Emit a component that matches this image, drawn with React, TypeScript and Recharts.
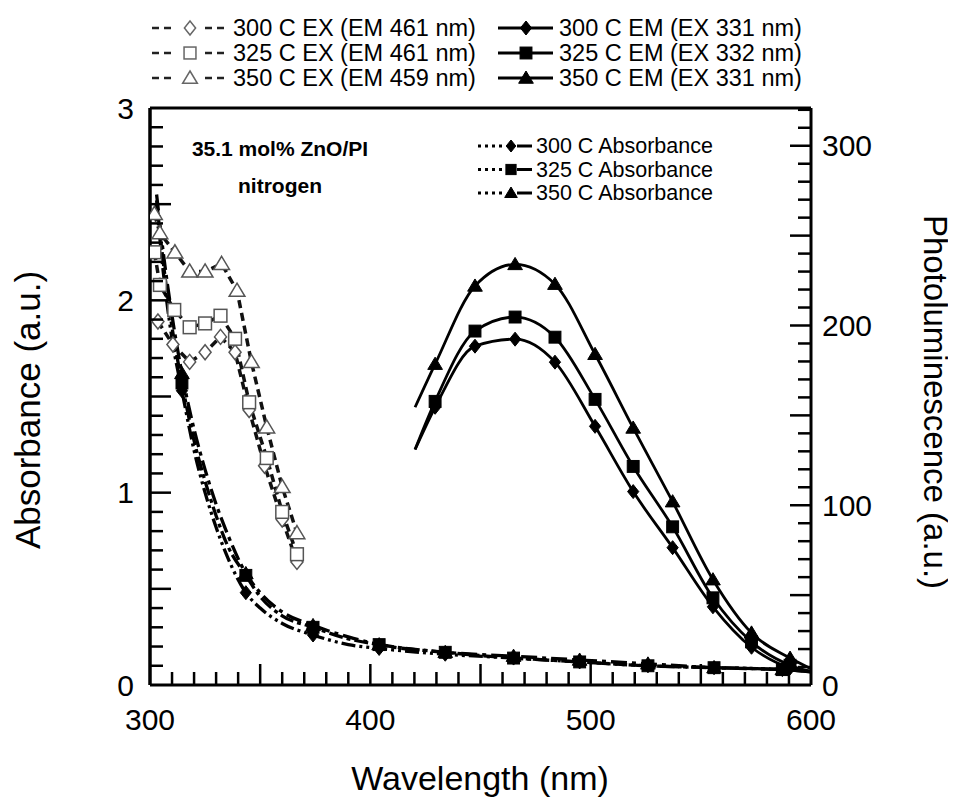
import React from 'react';
import { ComposedChart, Line, XAxis, YAxis, ReferenceLine } from 'recharts';

const FONT = '"Liberation Sans", Arial, sans-serif';

// PL excitation spectra, read against the left scale
const ex300Wl = [303.6, 310.4, 318, 325, 332, 338.6, 345, 352, 360, 366.7];
const ex300 = [1.89, 1.77, 1.68, 1.73, 1.81, 1.73, 1.43, 1.14, 0.86, 0.64];
const ex325Wl = [302, 304.5, 311, 318, 325, 332, 338.6, 345, 353, 360, 366.7];
const ex325 = [2.25, 2.08, 1.95, 1.86, 1.88, 1.92, 1.8, 1.47, 1.18, 0.9, 0.68];
const ex350Wl = [302, 304.5, 311.3, 318, 325, 332.5, 339.5, 346, 353, 360, 366.7];
const ex350 = [2.45, 2.35, 2.25, 2.15, 2.15, 2.19, 2.05, 1.68, 1.34, 1.03, 0.79];

// absorbance
const absWl = [303, 306, 310, 314.5, 320, 325, 330, 335, 343.5, 350, 360, 374, 390, 404, 434, 465, 495, 526, 556, 587, 600];
const abs300 = [2.5, 2.15, 1.8, 1.53, 1.22, 1.0, 0.82, 0.67, 0.48, 0.4, 0.32, 0.26, 0.21, 0.19, 0.16, 0.14, 0.12, 0.1, 0.09, 0.08, 0.07];
const abs325 = [2.52, 2.2, 1.86, 1.57, 1.27, 1.06, 0.88, 0.73, 0.57, 0.46, 0.36, 0.3, 0.24, 0.21, 0.17, 0.14, 0.12, 0.1, 0.09, 0.08, 0.07];
const abs350 = [2.55, 2.25, 1.92, 1.62, 1.33, 1.12, 0.94, 0.79, 0.58, 0.48, 0.38, 0.31, 0.25, 0.21, 0.17, 0.15, 0.13, 0.11, 0.09, 0.08, 0.07];
const absMarks = [314.5, 343.5, 374, 404, 434, 465, 495, 526, 556, 587];

// PL emission spectra, right scale
const emWl = [420.3, 429.4, 447.5, 465.7, 483.8, 502, 519.3, 537.2, 555.5, 573, 590.5, 600];
const em300 = [131, 154.5, 188.5, 192.4, 179.6, 143.9, 107.6, 76.4, 43.5, 21, 9.5, 7];
const em325 = [131, 157.8, 196.9, 204.7, 193.5, 158.9, 121.6, 88, 48.5, 24, 11, 7.5];
const em350 = [154.5, 178.5, 222, 234, 223, 184, 143, 102, 58.6, 29, 15, 9];
const emMarks = [429.4, 447.5, 465.7, 483.8, 502, 519.3, 537.2, 555.5, 573, 590.5];

const xLabels = [300, 400, 500, 600];
const plLabels = [0, 100, 200, 300];

const legendTop = [
  ['300 C EX (EM 461 nm)', '300 C EM (EX 331 nm)'],
  ['325 C EX (EM 461 nm)', '325 C EM (EX 332 nm)'],
  ['350 C EX (EM 459 nm)', '350 C EM (EX 331 nm)'],
];
const legendAbs = ['300 C Absorbance', '325 C Absorbance', '350 C Absorbance'];

type Shape = 'diamond' | 'square' | 'triangle';
type Pt = { wl: number; v: number; m: boolean };
const shapes: Shape[] = ['diamond', 'square', 'triangle'];

const range = (a: number, b: number, step: number) => {
  const out: number[] = [];
  for (let v = a; v <= b + 1e-9; v += step) out.push(Math.round(v * 1000) / 1000);
  return out;
};
const near = (v: number, step: number) => Math.abs(v / step - Math.round(v / step)) < 1e-6;

const pts = (wl: number[], v: number[], marks?: number[]): Pt[] =>
  wl.map((w, i) => ({ wl: w, v: v[i], m: marks ? marks.includes(w) : true }));

function glyph(shape: Shape, x: number, y: number, s: number, fill: string, stroke: string, sw: number, key?: any) {
  const h = s / 2;
  if (shape === 'diamond')
    return <path key={key} d={`M${x},${y - h}L${x + h * 0.8},${y}L${x},${y + h}L${x - h * 0.8},${y}Z`} fill={fill} stroke={stroke} strokeWidth={sw} />;
  if (shape === 'square')
    return <rect key={key} x={x - h * 0.85} y={y - h * 0.85} width={s * 0.85} height={s * 0.85} fill={fill} stroke={stroke} strokeWidth={sw} />;
  return <path key={key} d={`M${x},${y - h}L${x + h * 1.05},${y + h * 0.75}L${x - h * 1.05},${y + h * 0.75}Z`} fill={fill} stroke={stroke} strokeWidth={sw} />;
}

const dot = (shape: Shape, s: number, fill: string, stroke: string, sw: number) => (p: any) => {
  const { cx, cy, payload, index } = p;
  if (!payload || !payload.m || cx == null || cy == null) return <g key={index} />;
  return glyph(shape, cx, cy, s, fill, stroke, sw, index);
};

const tickFont = { fill: '#000', fontSize: 30, fontFamily: FONT };
const axisLine = { stroke: '#000', strokeWidth: 3 };

// inward tick marks + labels drawn at the positions recharts hands us
const xTick = (p: any) => {
  const { x, y, payload } = p;
  const v = payload.value;
  return (
    <g key={'xt' + v}>
      {v > 300 && v < 600 && <line x1={x} x2={x} y1={y} y2={y - (near(v, 50) ? 21 : 13)} stroke="#000" strokeWidth={2.5} />}
      {xLabels.includes(v) && <text x={x} y={y + 24} dy="0.71em" textAnchor="middle" style={tickFont}>{v}</text>}
    </g>
  );
};
const aTick = (p: any) => {
  const { x, y, payload } = p;
  const v = payload.value;
  return (
    <g key={'at' + v}>
      {v > 0 && v < 3 && <line x1={x} x2={x + (near(v, 0.5) ? 21 : 13)} y1={y} y2={y} stroke="#000" strokeWidth={2.5} />}
      {near(v, 1) && <text x={x - 16} y={y} dy="0.355em" textAnchor="end" style={tickFont}>{Math.round(v)}</text>}
    </g>
  );
};
const plTick = (p: any) => {
  const { x, y, payload } = p;
  const v = payload.value;
  return (
    <g key={'pt' + v}>
      {v > 0 && <line x1={x} x2={x - (near(v, 50) ? 21 : 13)} y1={y} y2={y} stroke="#000" strokeWidth={2.5} />}
      {plLabels.includes(v) && <text x={x + 11} y={y} dy="0.355em" textAnchor="start" style={tickFont}>{v}</text>}
    </g>
  );
};

export default function App() {
  const exStyle = { stroke: '#111', strokeWidth: 3.5, strokeDasharray: '8 5', fill: 'none' };
  const absDash = ['14 4 3 4 3 4', '14 4 4 4', '16 5 4 5'];
  const exData = [pts(ex300Wl, ex300), pts(ex325Wl, ex325), pts(ex350Wl, ex350)];
  const absData = [pts(absWl, abs300, absMarks), pts(absWl, abs325, absMarks), pts(absWl, abs350, absMarks)];
  const emData = [pts(emWl, em300, emMarks), pts(emWl, em325, emMarks), pts(emWl, em350, emMarks)];

  return (
    <div style={{ position: 'relative', width: 948, height: 799, background: '#fff', fontFamily: FONT }}>
      <ComposedChart width={948} height={799} margin={{ top: 100, right: 85, bottom: 62, left: 82 }}>
        <XAxis xAxisId="x" type="number" dataKey="wl" domain={[300, 600]} allowDataOverflow ticks={range(300, 600, 10)} interval={0}
          tickLine={false} axisLine={axisLine} tick={xTick} tickSize={0} tickMargin={0} height={60} />
        <YAxis yAxisId="A" type="number" domain={[0, 3]} allowDataOverflow ticks={range(0, 3, 0.1)} interval={0}
          tickLine={false} axisLine={axisLine} tick={aTick} tickSize={0} tickMargin={0} width={60} />
        <YAxis yAxisId="PL" orientation="right" type="number" domain={[0, 321]} allowDataOverflow ticks={range(0, 320, 10)} interval={0}
          tickLine={false} axisLine={axisLine} tick={plTick} tickSize={0} tickMargin={0} width={60} />

        <ReferenceLine xAxisId="x" yAxisId="A" y={3} stroke="#000" strokeWidth={3} />
        <ReferenceLine xAxisId="x" yAxisId="A" x={300} stroke="#000" strokeWidth={3} />

        {exData.map((d, i) => (
          <Line key={'ex' + i} xAxisId="x" yAxisId="A" data={d} dataKey="v" type="linear" {...exStyle}
            dot={dot(shapes[i], 15, '#fff', '#555', 1.5)} activeDot={false} isAnimationActive={false} />
        ))}
        {absData.map((d, i) => (
          <Line key={'abs' + i} xAxisId="x" yAxisId="A" data={d} dataKey="v" type="monotone" stroke="#000" strokeWidth={3.3}
            strokeDasharray={absDash[i]} dot={dot(shapes[i], 14, '#000', '#000', 1)} activeDot={false} isAnimationActive={false} />
        ))}
        {emData.map((d, i) => (
          <Line key={'em' + i} xAxisId="x" yAxisId="PL" data={d} dataKey="v" type="monotone" stroke="#000" strokeWidth={2.8}
            dot={dot(shapes[i], 14, '#000', '#000', 1)} activeDot={false} isAnimationActive={false} />
        ))}
      </ComposedChart>

      <svg width={948} height={799} style={{ position: 'absolute', left: 0, top: 0, pointerEvents: 'none' }}>
        {legendTop.map((row, i) => {
          const y = 20 + i * 25;
          return (
            <g key={'lt' + i}>
              <line x1={144} x2={168} y1={y} y2={y} stroke="#222" strokeWidth={2.5} strokeDasharray="7 5" />
              {glyph(shapes[i], 182, y, 14, '#fff', '#666', 1.5)}
              <line x1={197} x2={221} y1={y} y2={y} stroke="#222" strokeWidth={2.5} strokeDasharray="7 5" />
              <text x={225} y={y} dominantBaseline="central" fontSize={23.5} fill="#000">{row[0]}</text>
              <line x1={490} x2={545} y1={y} y2={y} stroke="#000" strokeWidth={3} />
              {glyph(shapes[i], 518, y, 14, '#000', '#000', 1)}
              <text x={551} y={y} dominantBaseline="central" fontSize={23.5} fill="#000">{row[1]}</text>
            </g>
          );
        })}

        <text x={272} y={140} textAnchor="middle" dominantBaseline="central" fontSize={21} fontWeight="bold" fill="#000">35.1 mol% ZnO/PI</text>
        <text x={272} y={177} textAnchor="middle" dominantBaseline="central" fontSize={21} fontWeight="bold" fill="#000">nitrogen</text>

        {legendAbs.map((t, i) => {
          const y = 138 + i * 23.5;
          return (
            <g key={'la' + i}>
              <line x1={470} x2={494} y1={y} y2={y} stroke="#000" strokeWidth={3} strokeDasharray="3 4" />
              {glyph(shapes[i], 503, y, 12, '#000', '#000', 1)}
              <line x1={509} x2={524} y1={y} y2={y} stroke="#000" strokeWidth={3} />
              <text x={528} y={y} dominantBaseline="central" fontSize={21.5} fill="#000">{t}</text>
            </g>
          );
        })}

        <text x={0} y={0} transform="translate(19 402) rotate(-90)" textAnchor="middle" dominantBaseline="central" fontSize={35} fill="#000">Absorbance (a.u.)</text>
        <text x={0} y={0} transform="translate(927 394) rotate(90)" textAnchor="middle" dominantBaseline="central" fontSize={33} fill="#000">Photoluminescence (a.u.)</text>
        <text x={472} y={770} textAnchor="middle" dominantBaseline="central" fontSize={34} fill="#000">Wavelength (nm)</text>
      </svg>
    </div>
  );
}
